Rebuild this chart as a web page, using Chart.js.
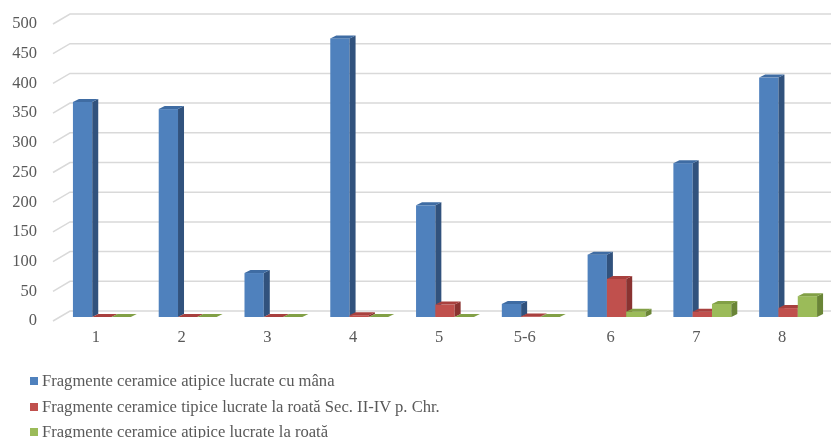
<!DOCTYPE html>
<html><head><meta charset="utf-8">
<script src="https://cdn.jsdelivr.net/npm/chart.js@4.4.1/dist/chart.umd.min.js"></script>
<style>
html,body{margin:0;padding:0;background:#fff;}
#wrap{position:relative;width:831px;height:438px;overflow:hidden;background:#fff;}
#c{position:absolute;left:0;top:0;}
#legend{position:absolute;left:30px;top:368px;font-family:"Liberation Serif",serif;font-size:16.6px;color:#595959;}
.row{height:25.5px;line-height:25.5px;white-space:nowrap;}
.sw{display:inline-block;width:8px;height:8px;margin-right:4px;vertical-align:middle;position:relative;top:-1px;}
</style></head><body>
<div id="wrap"><canvas id="c" width="831" height="438"></canvas><div id="legend"></div></div>
<script>
const categories = ['1', '2', '3', '4', '5', '5-6', '6', '7', '8'];
const handAtypical = [362, 350, 74, 469, 188, 22, 105, 259, 403];
const wheelTypical = [0, 0, 0, 3, 21, 1, 64, 9, 15];
const wheelAtypical = [0, 0, 0, 0, 0, 0, 9, 22, 35];
const seriesLabels = [
  'Fragmente ceramice atipice lucrate cu mâna',
  'Fragmente ceramice tipice lucrate la roată Sec. II-IV p. Chr.',
  'Fragmente ceramice atipice lucrate la roată'
];
const yMin = 0, yMax = 500, yStep = 50;

const frontColors = ['#4F81BD', '#C0504D', '#9BBB59'];
const topColors = ['#3F6CA3', '#A8403E', '#82A046'];
const sideColors = ['#31527D', '#8A3331', '#6A8537'];

const DX = 6, DY = -3;

const bar3d = {
  id: 'bar3d',
  beforeDatasetsDraw(chart) {
    const ctx = chart.ctx, ys = chart.scales.y, a = chart.chartArea;
    ctx.save();
    ctx.strokeStyle = '#D9D9D9';
    ctx.lineWidth = 1.5;
    ys.ticks.forEach(t => {
      const p = ys.getPixelForValue(t.value);
      ctx.beginPath();
      ctx.moveTo(a.left - 6, p + 4);
      ctx.lineTo(a.left + 11, p - 6);
      ctx.lineTo(a.right, p - 6);
      ctx.stroke();
    });
    ctx.restore();
  },
  afterDatasetsDraw(chart) {
    const ctx = chart.ctx;
    ctx.save();
    chart.data.datasets.forEach((ds, i) => {
      const meta = chart.getDatasetMeta(i);
      meta.data.forEach(el => {
        const {x, y, base, width} = el.getProps(['x', 'y', 'base', 'width'], true);
        const l = x - width / 2, r = x + width / 2;
        ctx.fillStyle = frontColors[i];
        ctx.fillRect(l, y, width, base - y);
        ctx.fillStyle = sideColors[i];
        ctx.beginPath();
        ctx.moveTo(r, y); ctx.lineTo(r + DX, y + DY); ctx.lineTo(r + DX, base + DY); ctx.lineTo(r, base);
        ctx.closePath(); ctx.fill();
        ctx.fillStyle = topColors[i];
        ctx.beginPath();
        ctx.moveTo(l, y); ctx.lineTo(l + DX, y + DY); ctx.lineTo(r + DX, y + DY); ctx.lineTo(r, y);
        ctx.closePath(); ctx.fill();
      });
    });
    ctx.restore();
  }
};

const seriesData = [handAtypical, wheelTypical, wheelAtypical];
const datasets = seriesData.map((d, i) => ({
  label: seriesLabels[i],
  data: d,
  backgroundColor: 'rgba(0,0,0,0)',
  borderWidth: 0,
  categoryPercentage: 0.675,
  barPercentage: 1.0
}));

const tickFont = {family: 'Liberation Serif', size: 16.5};

new Chart(document.getElementById('c'), {
  type: 'bar',
  data: {labels: categories, datasets},
  options: {
    responsive: false,
    animation: false,
    layout: {padding: {top: 20, bottom: 91, left: 0, right: 0}},
    plugins: {legend: {display: false}, tooltip: {enabled: false}},
    scales: {
      x: {
        grid: {display: false, drawTicks: false},
        border: {display: false},
        ticks: {color: '#595959', font: tickFont, padding: 11, labelOffset: -6, maxRotation: 0},
        afterFit(s) { s.height = 30; s.paddingLeft = 0; s.paddingRight = 0; }
      },
      y: {
        min: yMin, max: yMax,
        grid: {display: false, drawTicks: false},
        border: {display: false},
        ticks: {stepSize: yStep, color: '#595959', font: tickFont, padding: 22, labelOffset: 4},
        afterFit(s) { s.width = 59; s.paddingTop = 0; s.paddingBottom = 0; }
      }
    }
  },
  plugins: [bar3d]
});

const lg = document.getElementById('legend');
seriesLabels.forEach((t, i) => {
  const row = document.createElement('div');
  row.className = 'row';
  const sw = document.createElement('span');
  sw.className = 'sw';
  sw.style.background = frontColors[i];
  row.appendChild(sw);
  row.appendChild(document.createTextNode(t));
  lg.appendChild(row);
});
</script>
</body></html>
